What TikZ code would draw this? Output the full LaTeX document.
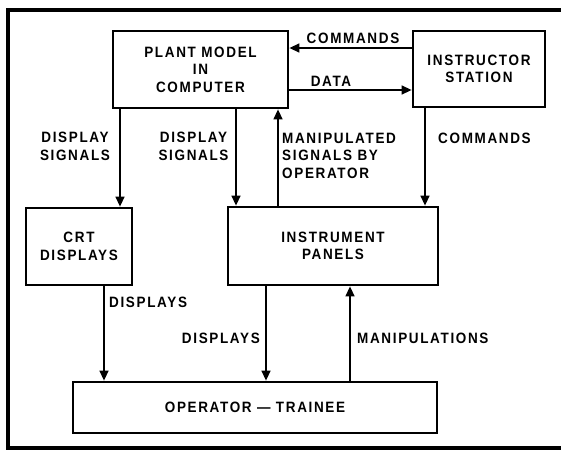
\documentclass[tikz,border=0pt]{standalone}
\usepackage{fontspec}
\setmainfont{Liberation Sans}[LetterSpace=11,FakeStretch=0.9]
\usepackage{tikz}
\usetikzlibrary{arrows.meta}

\begin{document}
\begin{tikzpicture}[
    x=1pt, y=-1pt,
    every node/.style={font=\fontsize{15}{17.5}\selectfont\bfseries, align=center, inner sep=0pt},
    block/.style={draw, line width=2.8pt},
    flow/.style={line width=1.4pt, -{Triangle[length=10pt,width=9pt]}}
]
\useasboundingbox (0,0) rectangle (561,450);
\draw[line width=3.2pt] (566,10) -- (8,10) -- (8,448) -- (566,448);

% blocks
\node[block, minimum width=175pt, minimum height=77pt] (plant) at (200.5,69.5) {PLANT MODEL\\IN\\COMPUTER};
\node[block, minimum width=132pt, minimum height=76pt] (instructor) at (479,69) {INSTRUCTOR\\STATION};
\node[block, minimum width=106pt, minimum height=77pt] (crt) at (79,246.5) {CRT\\DISPLAYS};
\node[block, minimum width=210pt, minimum height=78pt] (panels) at (333,246) {INSTRUMENT\\PANELS};
\node[block, minimum width=364pt, minimum height=51pt] (trainee) at (255,407.5) {OPERATOR — TRAINEE};

% connectors
\draw[flow] (instructor.west |- 0,48) -- (plant.east |- 0,48);
\draw[flow] (plant.east |- 0,90) -- (instructor.west |- 0,90);
\draw[flow] (plant.south -| 120,0) -- (crt.north -| 120,0);
\draw[flow] (plant.south -| 236,0) -- (panels.north -| 236,0);
\draw[flow] (panels.north -| 278,0) -- (plant.south -| 278,0);
\draw[flow] (instructor.south -| 425,0) -- (panels.north -| 425,0);
\draw[flow] (crt.south -| 104,0) -- (trainee.north -| 104,0);
\draw[flow] (panels.south -| 266,0) -- (trainee.north -| 266,0);
\draw[flow] (trainee.north -| 350,0) -- (panels.south -| 350,0);

% labels
\node (cmdtop) at (353,38) {COMMANDS};
\node (data) at (331,81) {DATA};
\node (dsig1) at (75,146.5) {DISPLAY\\SIGNALS};
\node (dsig2) at (193.5,146.5) {DISPLAY\\SIGNALS};
\node[align=left, anchor=west] (manip) at (282,155.5) {MANIPULATED\\SIGNALS BY\\OPERATOR};
\node[anchor=west] (cmdright) at (438,138) {COMMANDS};
\node[anchor=west] (disp1) at (109,302) {DISPLAYS};
\node[anchor=east] (disp2) at (260,338) {DISPLAYS};
\node[anchor=west] (manips) at (357,338) {MANIPULATIONS};
\end{tikzpicture}
\end{document}
